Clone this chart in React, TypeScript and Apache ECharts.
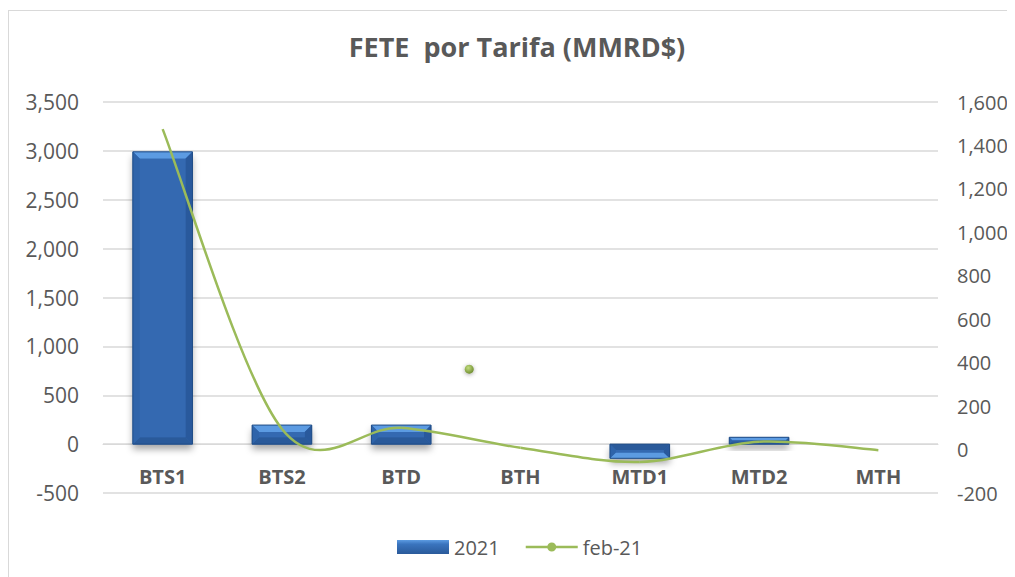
import React, { useEffect, useRef } from "react";
import * as echarts from "echarts";

const categories = ["BTS1", "BTS2", "BTD", "BTH", "MTD1", "MTD2", "MTH"];
const values2021 = [2990, 195, 195, 0, -145, 70, 0];
const valuesFeb21 = [1475, 95, 100, 8, -57, 36, -3];
// isolated marker of the feb-21 series, drawn between BTD and BTH
const strayMarker = { fromIndex: 2, toIndex: 3, fraction: 0.57, value: 370 };

const leftTicks = { min: -500, max: 3500, interval: 500 };
const rightTicks = { min: -200, max: 1600, interval: 200 };

const FONT = "'Open Sans', 'Liberation Sans', sans-serif";
const TEXT = "#595959";

const GRID = { left: 94, top: 91, width: 835, height: 391 };

export default function App() {
  const ref = useRef<HTMLDivElement>(null);
  useEffect(() => {
    const chart = echarts.init(ref.current!, null, { renderer: "svg" });
    const fmt = (v: number) => v.toLocaleString("en-US");
    // place the category axis on the left axis' zero line
    const zeroOffset = -((0 - leftTicks.min) / (leftTicks.max - leftTicks.min)) * GRID.height;

    const barRender = (params: any, api: any) => {
      const i = api.value(0);
      const v = api.value(1);
      const top = api.coord([i, v]);
      const base = api.coord([i, 0]);
      const bw = api.size([1, 0])[0] * 0.5;
      const x0 = top[0] - bw / 2;
      const x1 = top[0] + bw / 2;
      const yT = Math.min(top[1], base[1]);
      const yB = Math.max(top[1], base[1]);
      const h = yB - yT;
      if (h < 0.5) return null;
      const b = Math.min(7, h / 2.4, bw / 4);
      const positive = v >= 0;
      const light = "#5C9BE2";
      const dark = "#2A5A9A";
      const topColor = positive ? light : dark;
      const botColor = positive ? dark : light;
      return {
        type: "group",
        children: [
          {
            type: "rect",
            shape: { x: x0, y: yT, width: bw, height: h },
            style: {
              fill: "#3268B0",
              shadowBlur: 7,
              shadowOffsetY: 5,
              shadowColor: "rgba(0,0,0,0.35)",
            },
          },
          {
            type: "polygon",
            shape: { points: [[x0, yT], [x1, yT], [x1 - b, yT + b], [x0 + b, yT + b]] },
            style: { fill: topColor },
          },
          {
            type: "polygon",
            shape: { points: [[x0, yB], [x1, yB], [x1 - b, yB - b], [x0 + b, yB - b]] },
            style: { fill: botColor },
          },
          {
            type: "polygon",
            shape: { points: [[x0, yT], [x0 + b, yT + b], [x0 + b, yB - b], [x0, yB]] },
            style: { fill: "#2F64AA" },
          },
          {
            type: "polygon",
            shape: { points: [[x1, yT], [x1 - b, yT + b], [x1 - b, yB - b], [x1, yB]] },
            style: { fill: "#29599C" },
          },
          {
            type: "rect",
            shape: { x: x0 + b, y: yT + b, width: Math.max(bw - 2 * b, 0), height: Math.max(h - 2 * b, 0) },
            style: { fill: "#3469B1" },
          },
          {
            type: "rect",
            shape: { x: x0, y: yT, width: bw, height: h },
            style: { fill: "none", stroke: "#1F4C86", lineWidth: 1 },
          },
        ],
      };
    };

    const n = valuesFeb21.length;
    const lineRender = (params: any, api: any) => {
      const i = params.dataIndex;
      if (i >= n - 1) return null;
      const P = (j: number) => {
        const k = Math.max(0, Math.min(n - 1, j));
        return api.coord([k, valuesFeb21[k]]);
      };
      const p0 = P(i - 1);
      const p1 = P(i);
      const p2 = P(i + 1);
      const p3 = P(i + 2);
      return {
        type: "bezierCurve",
        shape: {
          x1: p1[0],
          y1: p1[1],
          x2: p2[0],
          y2: p2[1],
          cpx1: p1[0] + (p2[0] - p0[0]) / 6,
          cpy1: p1[1] + (p2[1] - p0[1]) / 6,
          cpx2: p2[0] - (p3[0] - p1[0]) / 6,
          cpy2: p2[1] - (p3[1] - p1[1]) / 6,
        },
        style: { fill: "none", stroke: "#9BBB59", lineWidth: 2.5 },
      };
    };

    const markerRender = (params: any, api: any) => {
      const a = api.coord([api.value(0), api.value(3)]);
      const c = api.coord([api.value(1), api.value(3)]);
      const t = api.value(2);
      const x = a[0] + (c[0] - a[0]) * t;
      const y = a[1];
      return {
        type: "circle",
        shape: { cx: x, cy: y, r: 4.5 },
        style: {
          fill: new echarts.graphic.RadialGradient(0.4, 0.35, 0.7, [
            { offset: 0, color: "#C2DD7E" },
            { offset: 1, color: "#6C8A2E" },
          ]),
          shadowBlur: 4,
          shadowColor: "rgba(0,0,0,0.35)",
          shadowOffsetY: 1,
        },
      };
    };

    chart.setOption({
      animation: false,
      backgroundColor: "#ffffff",
      title: {
        text: "FETE  por Tarifa (MMRD$)",
        left: 508,
        textAlign: "center",
        top: 22,
        padding: 0,
        textStyle: { fontFamily: FONT, fontSize: 27, fontWeight: "bold", color: TEXT },
      },
      legend: {
        left: 388,
        top: 526,
        padding: 0,
        itemWidth: 52,
        itemHeight: 14,
        itemGap: 26,
        textStyle: { fontFamily: FONT, fontSize: 20, color: TEXT },
        data: [
          { name: "2021", icon: "rect" },
          {
            name: "feb-21",
            icon: "path://M0,5.8H52V8.2H0Z M21.5,7a4.5,4.5 0 1,1 9,0a4.5,4.5 0 1,1 -9,0Z",
          },
        ],
      },
      grid: { ...GRID, containLabel: false },
      xAxis: {
        type: "category",
        data: categories,
        position: "bottom",
        offset: zeroOffset,
        axisLine: { show: true, onZero: false, lineStyle: { color: "#d9d9d9" } },
        axisTick: { show: false },
        axisLabel: {
          fontFamily: FONT,
          fontSize: 20,
          fontWeight: "bold",
          color: TEXT,
          margin: 22,
        },
      },
      yAxis: [
        {
          type: "value",
          min: leftTicks.min,
          max: leftTicks.max,
          interval: leftTicks.interval,
          axisLine: { show: false },
          axisTick: { show: false },
          splitLine: { lineStyle: { color: "#d9d9d9", width: 1.5 } },
          axisLabel: { fontFamily: FONT, fontSize: 21, color: TEXT, margin: 24, formatter: fmt },
        },
        {
          type: "value",
          min: rightTicks.min,
          max: rightTicks.max,
          interval: rightTicks.interval,
          alignTicks: false,
          axisLine: { show: false },
          axisTick: { show: false },
          splitLine: { show: false },
          axisLabel: { fontFamily: FONT, fontSize: 20, color: TEXT, margin: 19, formatter: fmt },
        },
      ],
      series: [
        {
          type: "custom",
          name: "2021",
          xAxisIndex: 0,
          yAxisIndex: 0,
          clip: false,
          itemStyle: {
            color: new echarts.graphic.LinearGradient(0, 0, 0, 1, [
              { offset: 0, color: "#5C9BE2" },
              { offset: 0.3, color: "#3A74BE" },
              { offset: 1, color: "#2A5A9A" },
            ]),
          },
          renderItem: barRender,
          data: values2021.map((v, i) => [i, v]),
          z: 2,
        },
        {
          type: "custom",
          name: "feb-21",
          xAxisIndex: 0,
          yAxisIndex: 1,
          clip: false,
          itemStyle: { color: "#9BBB59" },
          renderItem: lineRender,
          data: valuesFeb21.map((v, i) => [i, v]),
          z: 3,
        },
        {
          type: "custom",
          name: "feb-21 marker",
          xAxisIndex: 0,
          yAxisIndex: 1,
          clip: false,
          itemStyle: { color: "#9BBB59" },
          renderItem: markerRender,
          data: [[strayMarker.fromIndex, strayMarker.toIndex, strayMarker.fraction, strayMarker.value]],
          z: 3,
        },
      ],
    });
    return () => chart.dispose();
  }, []);

  return (
    <div
      style={{
        position: "relative",
        marginTop: 2,
        width: 1007,
        height: 567,
        borderLeft: "1px solid #d9d9d9",
        borderTop: "1px solid #d9d9d9",
        boxSizing: "border-box",
        background: "#fff",
      }}
    >
      <div ref={ref} style={{ position: "absolute", left: 0, top: 0, width: 1006, height: 566 }} />
    </div>
  );
}
